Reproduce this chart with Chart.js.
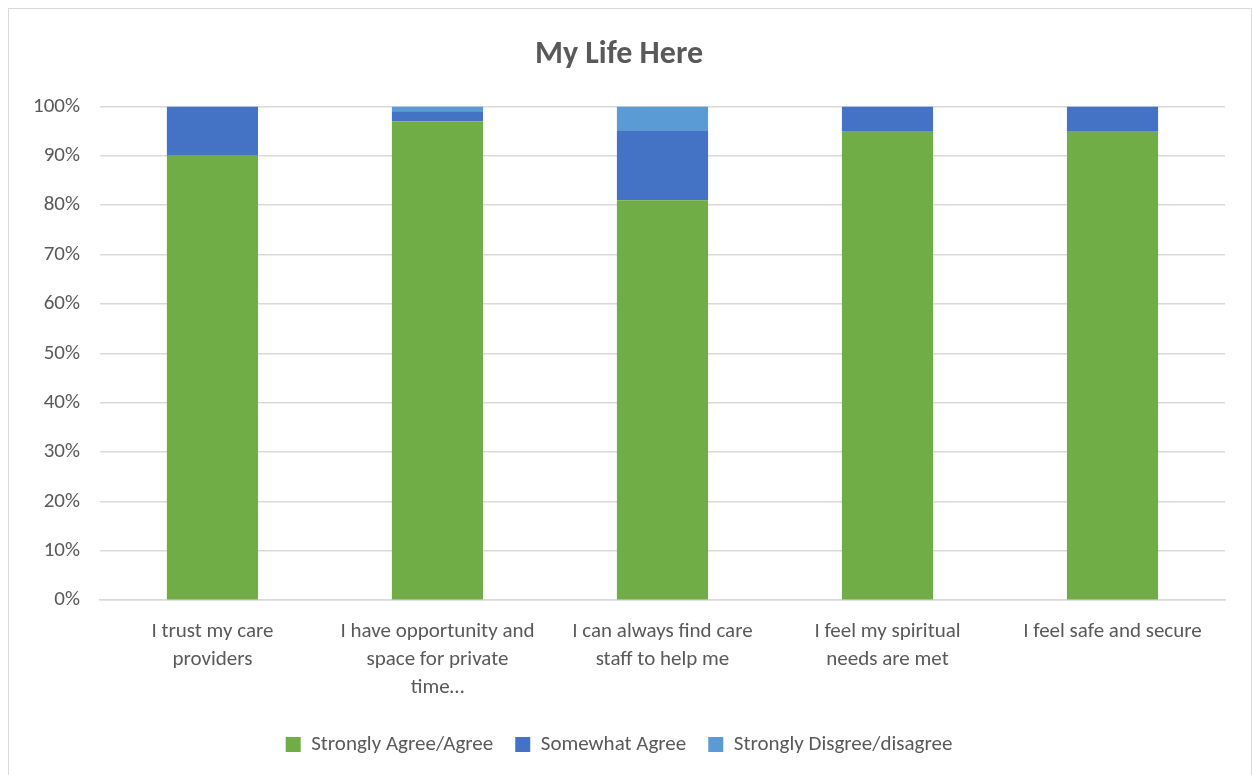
<!DOCTYPE html>
<html>
<head>
<meta charset="utf-8">
<script src="https://cdn.jsdelivr.net/npm/chart.js@4"></script>
<style>
  body { margin: 0; background: #fff; }
  .frame {
    position: absolute;
    left: 8px; top: 8px;
    width: 1244px; height: 780px;
    border: 1px solid #d9d9d9;
    box-sizing: border-box;
  }
  #wrap { position: absolute; left: 0; top: 0; width: 1253px; height: 775px; }
</style>
</head>
<body>
<div class="frame"></div>
<div id="wrap"><canvas id="lifeChart"></canvas></div>
<script>
const categories = [
  ["I trust my care", "providers"],
  ["I have opportunity and", "space for private", "time…"],
  ["I can always find care", "staff to help me"],
  ["I feel my spiritual", "needs are met"],
  "I feel safe and secure",
];
const agree = [90, 97, 81, 95, 95];
const somewhat = [10, 2, 14, 5, 5];
const disagree = [0, 1, 5, 0, 0];

const fontFamily = "Carlito, 'Liberation Sans Narrow', 'Liberation Sans', sans-serif";
const grey = "#595959";

const chart = new Chart(document.querySelector("#lifeChart"), {
  type: "bar",
  data: {
    labels: categories,
    datasets: [
      { label: "Strongly Agree/Agree", data: agree, backgroundColor: "#70AD47" },
      { label: "Somewhat Agree", data: somewhat, backgroundColor: "#4472C4" },
      { label: "Strongly Disgree/disagree", data: disagree, backgroundColor: "#5B9BD5" },
    ],
  },
  options: {
    responsive: true,
    maintainAspectRatio: false,
    animation: false,
    layout: { padding: { left: 13, right: 28, top: 36, bottom: 10 } },
    datasets: {
      bar: { categoryPercentage: 1, barPercentage: 0.405 },
    },
    scales: {
      x: {
        stacked: true,
        grid: { display: false },
        border: { color: "#d9d9d9", width: 1.5 },
        ticks: { color: grey, padding: 10, font: { family: fontFamily, size: 21, lineHeight: 1.33 }, maxRotation: 0, autoSkip: false },
      },
      y: {
        stacked: true,
        min: 0,
        max: 100,
        border: { display: false },
        grid: { color: "#d9d9d9", lineWidth: 1.5, tickLength: 0 },
        ticks: {
          stepSize: 10,
          padding: 20,
          color: grey,
          font: { family: fontFamily, size: 21 },
          callback: (v) => v + "%",
        },
      },
    },
    plugins: {
      title: {
        display: true,
        text: "My Life Here",
        color: grey,
        font: { family: fontFamily, size: 32, weight: "bold" },
        padding: { top: 0, bottom: 32 },
      },
      legend: {
        position: "bottom",
        labels: {
          color: grey,
          boxWidth: 15,
          boxHeight: 15,
          padding: 22,
          font: { family: fontFamily, size: 21 },
        },
      },
      tooltip: { enabled: false },
    },
  },
});
</script>
</body>
</html>
